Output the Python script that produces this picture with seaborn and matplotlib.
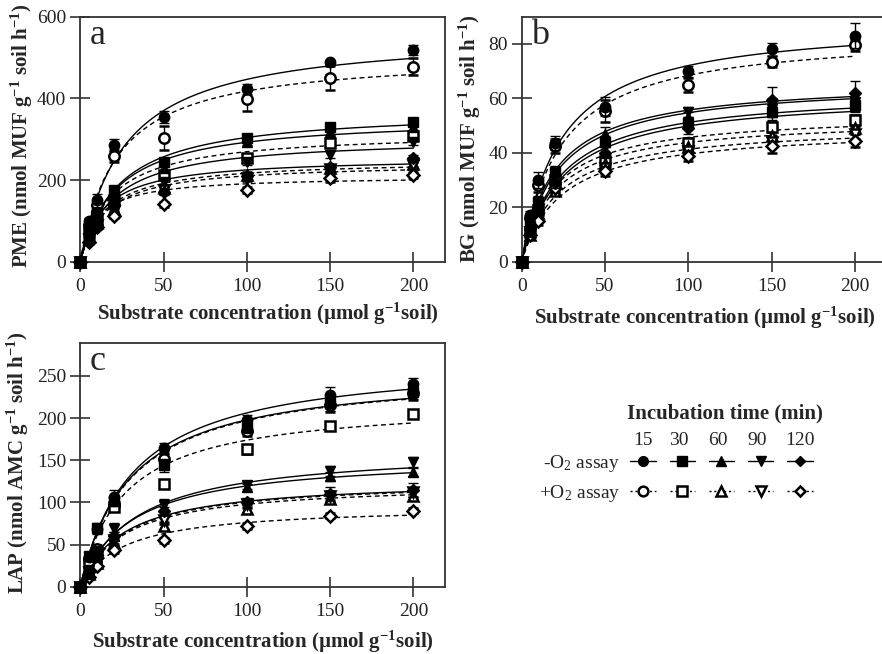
import numpy as np
import pandas as pd
import matplotlib
matplotlib.use('Agg')
import matplotlib.pyplot as plt
from matplotlib.lines import Line2D
import seaborn as sns

# substrate concentrations (umol g-1 soil)
conc = [0, 5, 10, 20, 50, 100, 150, 200]
times = ['15', '30', '60', '90', '120']
markers = ['o', 's', '^', 'v', 'D']

# ---- PME (panel a) ----
pme_minus = [[0, 100, 150, 285, 355, 422, 488, 518],
             [0, 78, 120, 176, 243, 303, 329, 343],
             [0, 65, 110, 162, 229, 293, 318, 330],
             [0, 55, 95, 150, 196, 245, 262, 294],
             [0, 50, 90, 140, 171, 210, 232, 253]]
pme_plus = [[0, 90, 140, 258, 303, 398, 450, 478],
            [0, 70, 105, 150, 212, 253, 290, 308],
            [0, 60, 95, 130, 180, 212, 230, 240],
            [0, 55, 90, 125, 175, 205, 226, 236],
            [0, 48, 85, 112, 141, 176, 204, 212]]
pme_minus_err = [[0, 6, 15, 15, 15, 12, 6, 12],
                 [0, 5, 8, 10, 10, 10, 8, 8],
                 [0, 5, 6, 8, 8, 8, 8, 8],
                 [0, 5, 6, 8, 8, 8, 8, 8],
                 [0, 4, 6, 6, 8, 8, 8, 8]]
pme_plus_err = [[0, 6, 10, 15, 30, 30, 30, 20],
                [0, 5, 6, 8, 10, 10, 10, 10],
                [0, 4, 6, 6, 8, 8, 8, 8],
                [0, 4, 6, 6, 8, 8, 8, 8],
                [0, 4, 5, 6, 6, 8, 8, 8]]
pme_vmax_minus = [563, 373, 355, 305, 256]
pme_km_minus = [26.1, 22.6, 21.3, 19.3, 13.9]
pme_vmax_plus = [508, 319, 249, 242, 210]
pme_km_plus = [21.6, 18.4, 14.9, 15.1, 10.0]

# ---- BG (panel b) ----
bg_minus = [[0, 17, 30, 43.5, 57, 70, 78, 83],
            [0, 13, 22, 33, 44, 51, 55, 57.5],
            [0, 11, 20, 31, 47, 53, 57, 59],
            [0, 12, 21, 32, 42, 55, 56, 58.5],
            [0, 12, 19, 29, 40, 49, 59.5, 62]]
bg_plus = [[0, 16, 28, 42.5, 55.5, 65, 73.5, 79.5],
           [0, 11, 19, 30, 37, 43.5, 49.5, 52],
           [0, 10, 18, 26, 36, 42, 46, 49],
           [0, 11, 17, 27, 34.5, 40.5, 44, 47],
           [0, 10, 15, 27, 33.5, 39, 42.5, 44.5]]
bg_minus_err = [[0, 1.5, 3, 2.5, 3.5, 2, 2.5, 4.5],
                [0, 1.5, 2, 2, 2, 2, 2, 2.5],
                [0, 1.5, 2, 2.5, 2.5, 2, 2.5, 3],
                [0, 1.5, 2, 2, 2.5, 2, 4, 3],
                [0, 1.5, 2, 2, 2, 2, 4.5, 4.5]]
bg_plus_err = [[0, 1.5, 2.5, 2.5, 4, 2.5, 2, 2],
               [0, 1.5, 2, 2, 2, 2, 2, 2],
               [0, 1, 1.5, 1.5, 2, 2, 2, 2],
               [0, 1, 1.5, 1.5, 2, 2, 2, 2],
               [0, 1, 1.5, 1.5, 2, 2, 2.5, 2.5]]
bg_vmax_minus = [88.6, 61.9, 66.2, 63.0, 66.7]
bg_km_minus = [23.0, 24.2, 21.0, 23.2, 19.8]
bg_vmax_plus = [84.1, 54.5, 52.7, 50.4, 49.1]
bg_km_plus = [22.9, 19.4, 20.4, 22.0, 24.1]

# ---- LAP (panel c) ----
lap_minus = [[0, 35, 68, 107, 164, 198, 227, 241],
             [0, 36, 70, 102, 144, 190, 218, 231],
             [0, 15, 35, 60, 95, 118, 131, 136],
             [0, 20, 42, 68, 97, 121, 137, 148],
             [0, 18, 38, 60, 90, 100, 110, 115]]
lap_plus = [[0, 33, 45, 97, 152, 185, 215, 230],
            [0, 28, 40, 95, 122, 163, 191, 205],
            [0, 15, 28, 52, 72, 92, 104, 108],
            [0, 17, 30, 55, 79, 98, 108, 112],
            [0, 12, 25, 43, 55, 72, 84, 90]]
lap_minus_err = [[0, 4, 6, 8, 7, 6, 10, 7],
                 [0, 4, 5, 6, 8, 8, 10, 8],
                 [0, 3, 4, 5, 5, 4, 5, 5],
                 [0, 3, 4, 7, 7, 5, 6, 6],
                 [0, 3, 4, 5, 5, 5, 8, 8]]
lap_plus_err = [[0, 4, 5, 6, 7, 6, 8, 8],
                [0, 3, 4, 5, 5, 5, 5, 5],
                [0, 3, 3, 4, 5, 5, 5, 5],
                [0, 3, 3, 4, 5, 5, 5, 5],
                [0, 2, 3, 3, 3, 3, 3, 3]]
lap_vmax_minus = [272, 257, 155.8, 164.5, 127.7]
lap_km_minus = [31.9, 29.8, 30.3, 33.1, 26.0]
lap_vmax_plus = [256.6, 220, 123.3, 126.7, 96.1]
lap_km_plus = [30.2, 26.5, 26.1, 26.3, 26.3]

sns.set_theme(style='ticks')
plt.rcParams['font.family'] = ['Liberation Serif', 'DejaVu Serif']
plt.rcParams['mathtext.fontset'] = 'custom'
plt.rcParams['mathtext.rm'] = 'Liberation Serif'
plt.rcParams['mathtext.bf'] = 'Liberation Serif:bold'
plt.rcParams['mathtext.default'] = 'regular'

spine_col = '#333333'


def mm_curves(vmax_minus, km_minus, vmax_plus, km_plus):
    # fitted Michaelis-Menten curves drawn from the read-off Vmax / Km
    s = np.linspace(0, 200, 201)
    rows = []
    for assay, vm, km in [('-O2', vmax_minus, km_minus), ('+O2', vmax_plus, km_plus)]:
        for t, v, k in zip(times, vm, km):
            rows.append(pd.DataFrame({'conc': s, 'rate': v * s / (k + s),
                                      'series': assay + t, 'assay': assay}))
    return pd.concat(rows, ignore_index=True)


def draw_panel(ax, minus, plus, minus_err, plus_err, curves, ylim, yticks, letter, ylabel):
    sns.lineplot(data=curves, x='conc', y='rate', units='series', estimator=None,
                 style='assay', dashes={'-O2': '', '+O2': (3.5, 2.5)},
                 color='black', linewidth=1.0, legend=False, ax=ax, zorder=2)
    for vals, err, m in zip(plus, plus_err, markers):
        ax.errorbar(conc, vals, yerr=err, fmt=m, ms=7.5 if m != 'D' else 6,
                    mfc='white', mec='black', mew=1.8, ecolor='black',
                    elinewidth=1.0, capsize=3.5, capthick=1.0, clip_on=False, zorder=3)
    for vals, err, m in zip(minus, minus_err, markers):
        ax.errorbar(conc, vals, yerr=err, fmt=m, ms=7.5 if m != 'D' else 6,
                    mfc='black', mec='black', mew=1.0, ecolor='black',
                    elinewidth=1.0, capsize=3.5, capthick=1.0, clip_on=False, zorder=4)
    ax.set_xlim(0, 219)
    ax.set_ylim(*ylim)
    ax.set_xticks([0, 50, 100, 150, 200])
    ax.set_yticks(yticks)
    for sp in ax.spines.values():
        sp.set_color(spine_col)
        sp.set_linewidth(1.3)
    ax.tick_params(direction='inout', length=14, width=1.2, color=spine_col,
                   labelsize=14, labelcolor='#222222')
    ax.tick_params(axis='x', pad=4.5)
    ax.tick_params(axis='y', pad=3)
    ax.text(0.025, 0.89, letter, transform=ax.transAxes, fontsize=26, va='baseline')
    ax.set_xlabel('Substrate concentration (µmol g$^{-1}$soil)', fontsize=15, fontweight='bold')
    ax.set_ylabel(ylabel, fontsize=15, fontweight='bold')


fig = plt.figure(figsize=(8.82, 6.54), dpi=100)
ax_a = fig.add_axes([0.0910, 0.5998, 0.4135, 0.3747])
ax_b = fig.add_axes([0.5915, 0.5998, 0.4135, 0.3747])
ax_c = fig.add_axes([0.0910, 0.1029, 0.4135, 0.3731])

draw_panel(ax_a, pme_minus, pme_plus, pme_minus_err, pme_plus_err,
           mm_curves(pme_vmax_minus, pme_km_minus, pme_vmax_plus, pme_km_plus),
           (0, 600), [0, 200, 400, 600], 'a', 'PME (nmol MUF g$^{-1}$ soil h$^{-1}$)')
draw_panel(ax_b, bg_minus, bg_plus, bg_minus_err, bg_plus_err,
           mm_curves(bg_vmax_minus, bg_km_minus, bg_vmax_plus, bg_km_plus),
           (0, 90), [0, 20, 40, 60, 80], 'b', 'BG (nmol MUF g$^{-1}$ soil h$^{-1}$)')
draw_panel(ax_c, lap_minus, lap_plus, lap_minus_err, lap_plus_err,
           mm_curves(lap_vmax_minus, lap_km_minus, lap_vmax_plus, lap_km_plus),
           (0, 289.5), [0, 50, 100, 150, 200, 250], 'c', 'LAP (nmol AMC g$^{-1}$ soil h$^{-1}$)')
ax_b.spines['right'].set_visible(False)

ax_a.xaxis.set_label_coords(0.515, -0.16)
ax_b.xaxis.set_label_coords(0.503, -0.175)
ax_c.xaxis.set_label_coords(0.502, -0.172)
ax_a.yaxis.set_label_coords(-0.125, 0.513)
ax_b.yaxis.set_label_coords(-0.105, 0.50)
ax_c.yaxis.set_label_coords(-0.135, 0.507)

# legend block
handles = []
for m in markers:
    ms = 7 if m != 'D' else 5.5
    handles.append(Line2D([], [], color='black', lw=1.0, ls='-', marker=m, ms=ms,
                          mfc='black', mec='black'))
    handles.append(Line2D([], [], color='black', lw=1.0, ls=(0, (1.5, 2)), marker=m, ms=ms,
                          mfc='white', mec='black', mew=1.8))
fig.legend(handles, [''] * 10, ncol=5, loc='center', bbox_to_anchor=(0.818, 0.269),
           frameon=False, fontsize=14, handlelength=1.3, handletextpad=0.0,
           columnspacing=0.72, labelspacing=0.6, borderpad=0)

fig.text(0.822, 0.368, 'Incubation time (min)', fontsize=15, fontweight='bold',
         ha='center', va='center')
for t, xpos in zip(times, [643, 679, 718, 757, 800]):
    fig.text(xpos / 882, 0.327, t, fontsize=14, ha='center', va='center')
fig.text(0.703, 0.292, '-O$_2$ assay', fontsize=14, ha='right', va='center')
fig.text(0.703, 0.246, '+O$_2$ assay', fontsize=14, ha='right', va='center')

fig.savefig('out.png', dpi=100)
